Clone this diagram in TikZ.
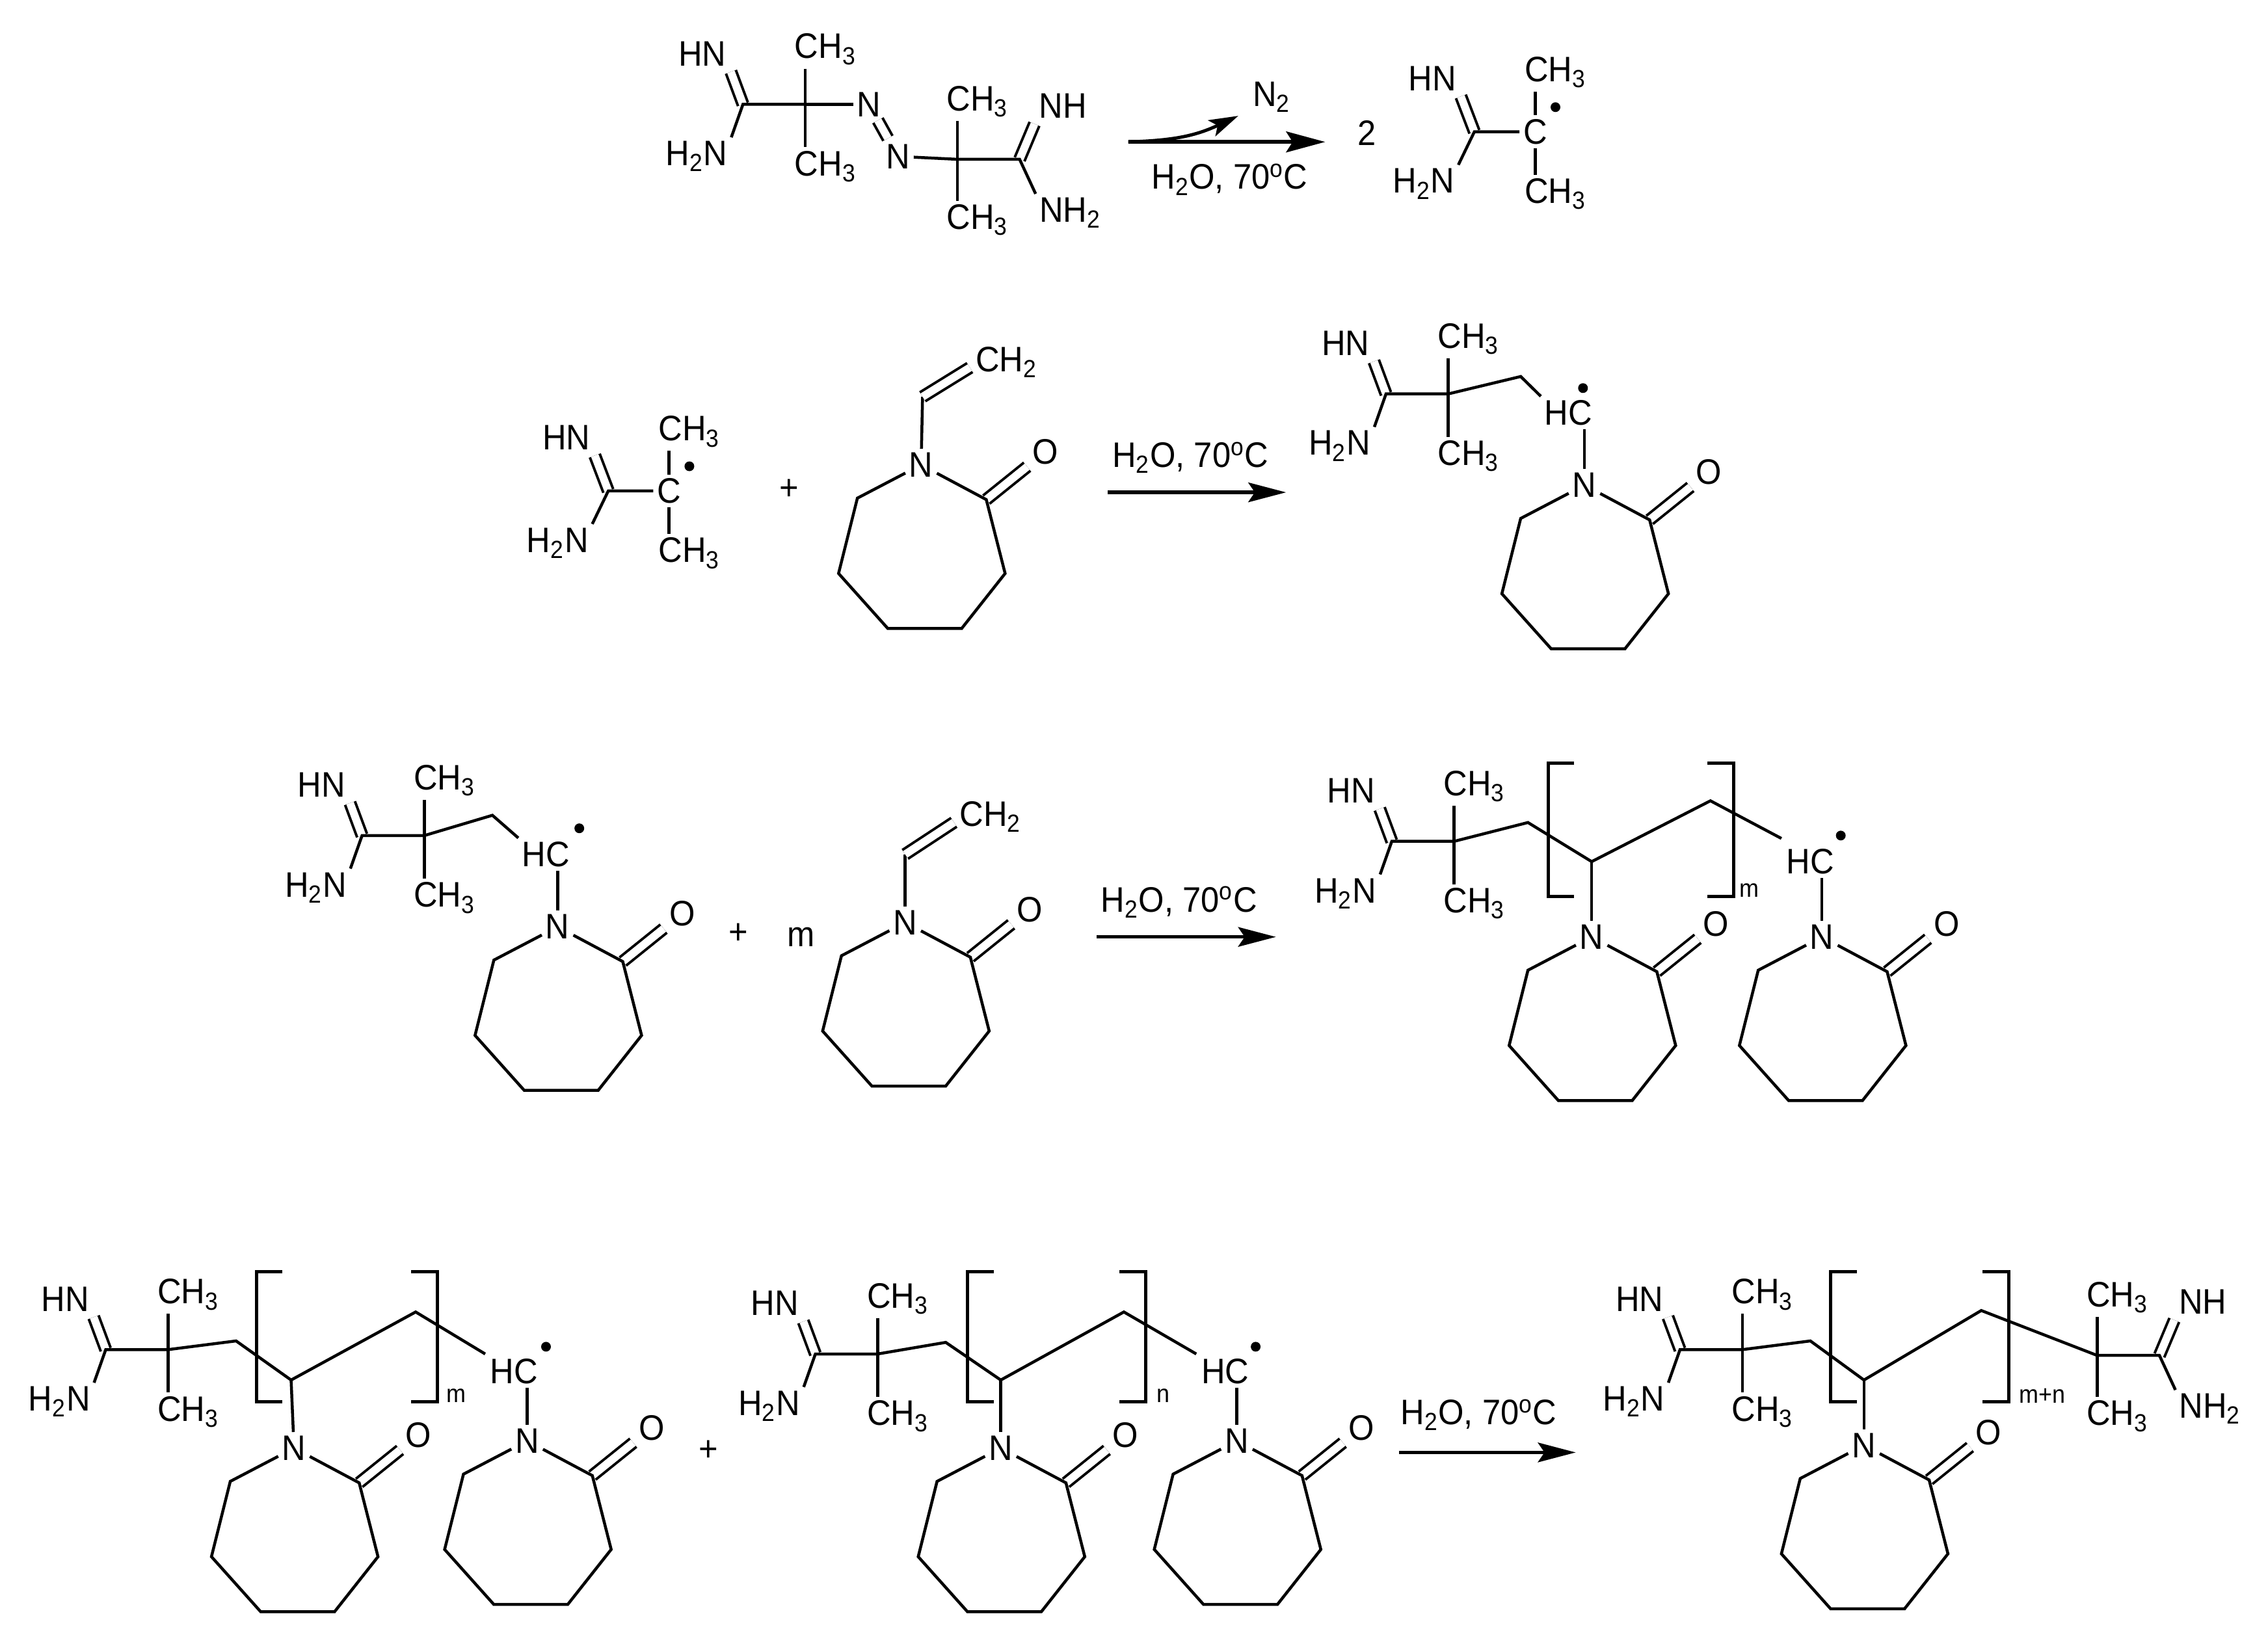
\documentclass[tikz,border=0pt]{standalone}
\usepackage{fontspec}
\setmainfont{Liberation Sans}[FakeStretch=0.93]
\usetikzlibrary{arrows.meta}
\tikzset{
  bond/.style={line width=0.045cm},
  dbl/.style={line width=0.04cm,double,double distance=0.12cm,shorten >=1pt},
  atom/.style={inner sep=1.5pt,font=\fontsize{15.5}{18}\selectfont},
  small/.style={inner sep=0pt,font=\fontsize{11}{13}\selectfont},
  dot/.style={circle,fill=black,inner sep=0pt,minimum size=0.15cm},
  react/.style={line width=0.055cm,-{Stealth[length=0.58cm,width=0.3cm,inset=0.1cm]}},
  % seven ring, origin at the N
  lactam/.pic={
    \node[atom] (-n) at (0,0) {N};
    \node[atom] (-o) at (86,-9) {O};
    \coordinate (-a) at (-44,23);
    \coordinate (-b) at (-57,75);
    \coordinate (-c) at (-23,113);
    \coordinate (-d) at (28,113);
    \coordinate (-e) at (58,75);
    \coordinate (-f) at (45,24);
    \draw[dbl] (-f) -- (-o);
    \draw[bond] (-n) -- (-a) -- (-b) -- (-c) -- (-d) -- (-e) -- (-f) -- (-n);
  },
  % amidine end, origin at the quaternary C
  head/.pic={
    \coordinate (-q) at (0,0);
    \coordinate (-k) at (-43,0);
    \node[atom] (-hn) at (-71,-35) {HN};
    \node[atom] (-nh) at (-75,36) {H\textsubscript{2}N};
    \node[atom] (-t) at (14,-38) {CH\textsubscript{3}};
    \node[atom] (-u) at (14,43) {CH\textsubscript{3}};
    \draw[dbl] (-k) -- (-hn.south east);
    \draw[bond] (-nh.north east) -- (-k) -- (-q);
    \draw[bond] (-t.south -| -q) -- (-u.north -| -q);
  },
  headr/.pic={
    \coordinate (-q) at (0,0);
    \coordinate (-k) at (43,0);
    \node[atom] (-hn) at (73,-37) {NH};
    \node[atom] (-nh) at (78,37) {NH\textsubscript{2}};
    \node[atom] (-t) at (14,-40) {CH\textsubscript{3}};
    \node[atom] (-u) at (14,42) {CH\textsubscript{3}};
    \draw[dbl] (-k) -- (-hn.south west);
    \draw[bond] (-nh.north west) -- (-k) -- (-q);
    \draw[bond] (-t.south -| -q) -- (-u.north -| -q);
  },
  % same end with the radical C
  radical/.pic={
    \node[atom] (-q) at (0,0) {C};
    \coordinate (-k) at (-42,0);
    \node[atom] (-hn) at (-71,-37) {HN};
    \node[atom] (-nh) at (-77,36) {H\textsubscript{2}N};
    \node[atom] (-t) at (14,-41) {CH\textsubscript{3}};
    \node[atom] (-u) at (14,43) {CH\textsubscript{3}};
    \node[dot] (-s) at (14,-17) {};
    \draw[dbl] (-k) -- (-hn.south east);
    \draw[bond] (-nh.north east) -- (-k) -- (-q);
    \draw[bond] (-t.south -| -q) -- (-q);
    \draw[bond] (-q) -- (-u.north -| -q);
  }
}
% left x, right x, top y, bottom y, index, index x
\newcommand{\brackets}[6]{
  \draw[bond,line width=0.05cm] (#1+18,#3) -- (#1,#3) -- (#1,#4) -- (#1+18,#4);
  \draw[bond,line width=0.05cm] (#2-18,#3) -- (#2,#3) -- (#2,#4) -- (#2-18,#4);
  \node[small] at (#6,#4-4) {#5};
}
\begin{document}
\begin{tikzpicture}[x=0.022267cm,y=-0.022267cm]
\useasboundingbox (0,0) rectangle (1566,1134.9);

% first line
\pic (g1) at (556,72) {head};
\pic (g2) at (661,110) {headr};
\node[atom] (n1) at (600,72) {N};
\node[atom] (n2) at (620,108) {N};
\draw[bond] (g1-q) -- (n1);
\draw[dbl] (n1) -- (n2);
\draw[bond] (n2) -- (g2-q);
\coordinate (a1s) at (779,98);
\coordinate (a1e) at (915,98);
\node[atom] (n3) at (878,67) {N\textsubscript{2}};
\coordinate (a1n) at (855,80);
\draw[react,-{Stealth[length=0.6cm,width=0.32cm,inset=0.1cm]}] (a1s) -- (a1e);
\draw[line width=0.05cm,-{Stealth[length=0.45cm,width=0.27cm,inset=0.1cm]}] (a1s) .. controls (810,97) and (825,94) .. (a1n);
\node[atom] (t1) at (849,124) {H\textsubscript{2}O, 70\textsuperscript{o}C};
\node[atom] (two) at (944,92) {2};
\pic (r1) at (1060,91) {radical};

% second line
\pic (r2) at (462,339) {radical};
\node[atom] (plus2) at (545,338) {+};
\pic (m2) at (636,321) {lactam};
\coordinate (v2a) at (637,274);
\coordinate (v2b) at (671,253);
\node[atom,anchor=west] (ch2) at (671,250) {CH\textsubscript{2}};
\draw[bond] (m2-n) -- (v2a);
\draw[dbl] (v2a) -- (v2b);
\coordinate (a2s) at (765,340);
\coordinate (a2e) at (888,340);
\draw[react] (a2s) -- (a2e);
\node[atom] (t2) at (822,316) {H\textsubscript{2}O, 70\textsuperscript{o}C};
\pic (g3) at (1000,272) {head};
\coordinate (b3) at (1050,260);
\node[atom] (hc3) at (1083,285) {HC};
\node[dot] (s3) at (1093,268) {};
\pic (m3) at (1094,335) {lactam};
\draw[bond] (g3-q) -- (b3) -- (hc3.north west);
\draw[bond] (hc3.south -| m3-n) -- (m3-n);

% third line
\pic (g4) at (293,577) {head};
\coordinate (b4) at (340,563);
\node[atom] (hc4) at (377,590) {HC};
\node[dot] (s4) at (400,572) {};
\pic (m4) at (385,640) {lactam};
\draw[bond] (g4-q) -- (b4) -- (hc4.north west);
\draw[bond] (hc4.south -| m4-n) -- (m4-n);
\node[atom] (plus4) at (510,645) {+};
\node[atom] (mm) at (553,647) {m};
\pic (m5) at (625,637) {lactam};
\coordinate (v5a) at (625,590);
\coordinate (v5b) at (660,567);
\node[atom,anchor=west] (ch5) at (660,564) {CH\textsubscript{2}};
\draw[bond] (m5-n) -- (v5a);
\draw[dbl] (v5a) -- (v5b);
\coordinate (a3s) at (757,647);
\coordinate (a3e) at (881,647);
\draw[react] (a3s) -- (a3e);
\node[atom] (t3) at (814,623) {H\textsubscript{2}O, 70\textsuperscript{o}C};
\pic (g6) at (1004,581) {head};
\coordinate (b6) at (1055,568);
\coordinate (l6) at (1099,595);
\coordinate (h6) at (1181,553);
\coordinate (e6) at (1230,579);
\node[atom] (hc6) at (1250,595) {HC};
\node[dot] (s6) at (1271,577) {};
\pic (m6) at (1099,647) {lactam};
\pic (m7) at (1258,647) {lactam};
\draw[bond] (g6-q) -- (b6) -- (l6) -- (h6) -- (e6);
\draw[bond] (l6) -- (m6-n);
\draw[bond] (hc6.south -| m7-n) -- (m7-n);
\brackets{1069}{1197}{527}{619}{m}{1208}

% fourth line
\pic (g8) at (116,932) {head};
\coordinate (b8) at (163,926);
\coordinate (l8) at (201,953);
\coordinate (h8) at (287,906);
\coordinate (e8) at (335,935);
\node[atom] (hc8) at (355,947) {HC};
\node[dot] (s8) at (377,930) {};
\pic (m8) at (203,1000) {lactam};
\pic (m9) at (364,995) {lactam};
\draw[bond] (g8-q) -- (b8) -- (l8) -- (h8) -- (e8);
\draw[bond] (l8) -- (m8-n);
\draw[bond] (hc8.south -| m9-n) -- (m9-n);
\brackets{177}{302}{878}{968}{m}{315}
\node[atom] (plus8) at (489,1002) {+};
\pic (g10) at (606,935) {head};
\coordinate (b10) at (653,927);
\coordinate (l10) at (691,953);
\coordinate (h10) at (776,906);
\coordinate (e10) at (826,935);
\node[atom] (hc10) at (846,947) {HC};
\node[dot] (s10) at (867,930) {};
\pic (m10) at (691,1000) {lactam};
\pic (m11) at (854,995) {lactam};
\draw[bond] (g10-q) -- (b10) -- (l10) -- (h10) -- (e10);
\draw[bond] (l10) -- (m10-n);
\draw[bond] (hc10.south -| m11-n) -- (m11-n);
\brackets{668}{791}{878}{968}{n}{803}
\coordinate (a4s) at (966,1003);
\coordinate (a4e) at (1088,1003);
\draw[react] (a4s) -- (a4e);
\node[atom] (t4) at (1021,977) {H\textsubscript{2}O, 70\textsuperscript{o}C};
\pic (g12) at (1203,932) {head};
\pic (g13) at (1448,936) {headr};
\coordinate (b12) at (1250,926);
\coordinate (l12) at (1287,953);
\coordinate (h12) at (1368,905);
\pic (m12) at (1287,998) {lactam};
\draw[bond] (g12-q) -- (b12) -- (l12) -- (h12) -- (g13-q);
\draw[bond] (l12) -- (m12-n);
\brackets{1264}{1387}{878}{968}{m+n}{1410}
\end{tikzpicture}
\end{document}
